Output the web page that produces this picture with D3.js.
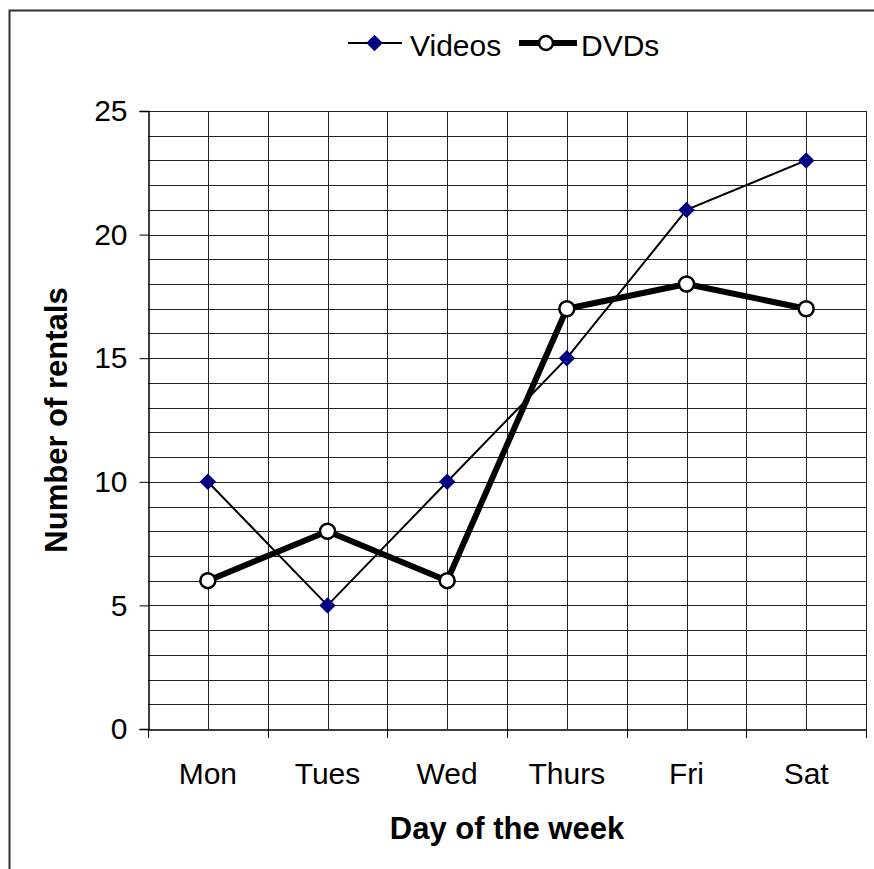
<!DOCTYPE html>
<html><head><meta charset="utf-8">
<script src="https://cdn.jsdelivr.net/npm/d3@7"></script>
<style>body{margin:0;background:#fff;} svg{display:block;font-family:"Liberation Sans",Arial,sans-serif;}</style>
</head><body>
<script>
const days = ["Mon","Tues","Wed","Thurs","Fri","Sat"];
const videos = [10,5,10,15,21,23];
const dvds = [6,8,6,17,18,17];
const yTicks = [0,5,10,15,20,25];
const yMinor = d3.range(0,26,1);

const W = 874, H = 869;
const m = {left:148, right:866, top:111, bottom:729};
const svg = d3.select("body").append("svg").attr("width",W).attr("height",H);

// outer frame
svg.append("rect").attr("x",9.5).attr("y",10.5).attr("width",W+10).attr("height",H+10)
  .attr("fill","none").attr("stroke","#333").attr("stroke-width",2);

const x = d3.scaleBand().domain(days).range([m.left,m.right]);
const y = d3.scaleLinear().domain([0,25]).range([m.bottom,m.top]);
const cx = d => x(d) + x.bandwidth()/2;

// horizontal gridlines
svg.append("g").selectAll("line").data(yMinor.filter(v=>v>0)).join("line")
  .attr("x1",m.left).attr("x2",m.right)
  .attr("y1",d=>Math.round(y(d))+0.5).attr("y2",d=>Math.round(y(d))+0.5)
  .attr("stroke","#222").attr("stroke-width",1);

// vertical gridlines at half-category
const vpos = [];
days.forEach(d=>{ vpos.push(cx(d)); vpos.push(x(d)+x.bandwidth()); });
svg.append("g").selectAll("line").data(vpos).join("line")
  .attr("x1",d=>Math.round(d)+0.5).attr("x2",d=>Math.round(d)+0.5)
  .attr("y1",m.top).attr("y2",m.bottom)
  .attr("stroke","#222").attr("stroke-width",1);

// y axis
const yAxis = svg.append("g").attr("transform",`translate(${m.left+0.5},0)`)
  .call(d3.axisLeft(y).tickValues(yTicks).tickSize(9).tickPadding(12));
yAxis.select(".domain").attr("stroke","#000").attr("stroke-width",1.5);
yAxis.selectAll(".tick line").attr("stroke","#000").attr("stroke-width",1);
yAxis.selectAll("text").attr("font-size",30).attr("fill","#000")
  .attr("font-family","'Liberation Sans',Arial,sans-serif");

// x axis
const xAxis = svg.append("g").attr("transform",`translate(0,${m.bottom+0.5})`)
  .call(d3.axisBottom(x).tickSize(0).tickPadding(33));
xAxis.select(".domain").attr("stroke","#000").attr("stroke-width",1.5);
xAxis.selectAll("text").attr("font-size",30).attr("fill","#000")
  .attr("font-family","'Liberation Sans',Arial,sans-serif");
// x ticks at category boundaries
const bounds = [m.left].concat(days.map(d=>x(d)+x.bandwidth()));
svg.append("g").selectAll("line").data(bounds).join("line")
  .attr("x1",d=>Math.round(d)+0.5).attr("x2",d=>Math.round(d)+0.5)
  .attr("y1",m.bottom).attr("y2",m.bottom+9)
  .attr("stroke","#000").attr("stroke-width",1);

// lines
const line = d3.line().x((d,i)=>cx(days[i])).y(d=>y(d));
svg.append("path").datum(videos).attr("d",line).attr("fill","none")
  .attr("stroke","#000").attr("stroke-width",2);
svg.append("path").datum(dvds).attr("d",line).attr("fill","none")
  .attr("stroke","#000").attr("stroke-width",6).attr("stroke-linejoin","round");

const diamond = d3.symbol().type(d3.symbolSquare).size(135);
svg.append("g").selectAll("path").data(videos).join("path")
  .attr("d",diamond)
  .attr("transform",(d,i)=>`translate(${cx(days[i])},${y(d)}) rotate(45)`)
  .attr("fill","#000080");
svg.append("g").selectAll("circle").data(dvds).join("circle")
  .attr("cx",(d,i)=>cx(days[i])).attr("cy",d=>y(d)).attr("r",7.5)
  .attr("fill","#fff").attr("stroke","#000").attr("stroke-width",2.5);

// axis titles
svg.append("text").attr("x",(m.left+m.right)/2).attr("y",839).attr("text-anchor","middle")
  .attr("font-size",31).attr("font-weight","bold").text("Day of the week");
svg.append("text").attr("transform",`translate(67,${(m.top+m.bottom)/2}) rotate(-90)`)
  .attr("text-anchor","middle").attr("font-size",31).attr("font-weight","bold").text("Number of rentals");

// legend
const lg = svg.append("g");
const ly = 43;
lg.append("line").attr("x1",348).attr("x2",402).attr("y1",ly).attr("y2",ly).attr("stroke","#000").attr("stroke-width",2);
lg.append("path").attr("d",diamond).attr("transform",`translate(374.5,${ly}) rotate(45)`).attr("fill","#000080");
lg.append("text").attr("x",410).attr("y",ly+13).attr("font-size",30).text("Videos");
lg.append("line").attr("x1",519).attr("x2",577).attr("y1",ly).attr("y2",ly).attr("stroke","#000").attr("stroke-width",6);
lg.append("circle").attr("cx",546).attr("cy",ly).attr("r",7).attr("fill","#fff").attr("stroke","#000").attr("stroke-width",2.5);
lg.append("text").attr("x",581).attr("y",ly+13).attr("font-size",30).text("DVDs");
</script>
</body></html>
